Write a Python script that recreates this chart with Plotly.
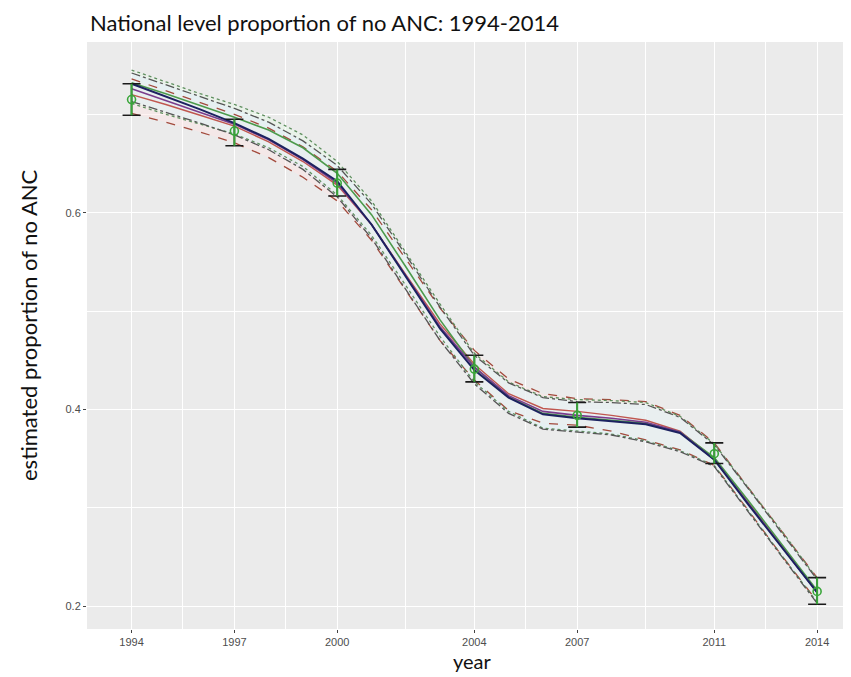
import plotly.graph_objects as go

# ---------------- data ----------------
years = list(range(1994, 2015))

navy_est = [0.731, 0.718, 0.705, 0.691, 0.675, 0.655, 0.632, 0.588, 0.535, 0.482, 0.440,
            0.412, 0.395, 0.391, 0.388, 0.385, 0.376, 0.349, 0.303, 0.259, 0.214]
red_est = [0.720, 0.710, 0.699, 0.688, 0.672, 0.652, 0.628, 0.588, 0.537, 0.487, 0.446,
           0.416, 0.401, 0.398, 0.394, 0.389, 0.378, 0.350, 0.305, 0.260, 0.215]
green_est = [0.732, 0.721, 0.709, 0.697, 0.684, 0.666, 0.640, 0.598, 0.545, 0.491, 0.443,
             0.413, 0.396, 0.392, 0.389, 0.386, 0.377, 0.351, 0.307, 0.262, 0.216]
purple_est = [0.726, 0.714, 0.702, 0.690, 0.674, 0.654, 0.630, 0.588, 0.536, 0.484, 0.443,
              0.414, 0.398, 0.394, 0.391, 0.387, 0.377, 0.349, 0.304, 0.259, 0.214]

red_hi = [0.736, 0.724, 0.712, 0.700, 0.686, 0.667, 0.642, 0.603, 0.553, 0.503, 0.460,
          0.431, 0.416, 0.411, 0.410, 0.408, 0.394, 0.366, 0.320, 0.274, 0.229]
red_lo = [0.701, 0.692, 0.682, 0.671, 0.656, 0.636, 0.612, 0.572, 0.521, 0.470, 0.430,
          0.399, 0.386, 0.384, 0.378, 0.369, 0.359, 0.343, 0.297, 0.250, 0.205]
green_hi = [0.745, 0.733, 0.721, 0.710, 0.697, 0.679, 0.652, 0.612, 0.560, 0.507, 0.457,
            0.428, 0.413, 0.410, 0.409, 0.407, 0.393, 0.365, 0.320, 0.275, 0.228]
green_lo = [0.711, 0.700, 0.690, 0.680, 0.666, 0.647, 0.618, 0.577, 0.526, 0.474, 0.428,
            0.398, 0.381, 0.378, 0.375, 0.368, 0.358, 0.343, 0.296, 0.250, 0.204]
navy_hi = [0.742, 0.730, 0.718, 0.706, 0.692, 0.673, 0.648, 0.609, 0.557, 0.504, 0.455,
           0.427, 0.412, 0.408, 0.407, 0.405, 0.392, 0.364, 0.319, 0.273, 0.227]
navy_lo = [0.713, 0.702, 0.691, 0.679, 0.664, 0.644, 0.616, 0.574, 0.522, 0.470, 0.426,
           0.396, 0.380, 0.377, 0.374, 0.367, 0.357, 0.342, 0.295, 0.249, 0.203]

survey_years = [1994, 1997, 2000, 2004, 2007, 2011, 2014]
direct_est = [0.715, 0.683, 0.630, 0.441, 0.394, 0.355, 0.215]
direct_lo = [0.699, 0.668, 0.617, 0.428, 0.382, 0.345, 0.202]
direct_hi = [0.731, 0.695, 0.644, 0.455, 0.407, 0.366, 0.229]

x_ticks = [1994, 1997, 2000, 2004, 2007, 2011, 2014]
x_minor = [1995.5, 1998.5, 2002, 2005.5, 2009, 2012.5]
y_ticks = [0.2, 0.4, 0.6]
y_minor = [0.3, 0.5, 0.7]

# ---------------- figure ----------------
# page body has an 8px default margin; figure is sized so it fills the window
FIG_W, FIG_H = 843, 669

fig = go.Figure()

def ribbon(lo, hi, color):
    fig.add_trace(go.Scatter(x=years, y=lo, mode="lines", line=dict(width=0),
                             hoverinfo="skip", showlegend=False))
    fig.add_trace(go.Scatter(x=years, y=hi, mode="lines", line=dict(width=0),
                             fill="tonexty", fillcolor=color,
                             hoverinfo="skip", showlegend=False))

ribbon(red_lo, red_hi, "rgba(255,228,228,0.45)")
ribbon(green_lo, green_hi, "rgba(228,255,228,0.35)")
ribbon(navy_lo, navy_hi, "rgba(225,238,255,0.40)")

ci_styles = [
    (red_hi, "#a24a3c", "dash"),
    (red_lo, "#a24a3c", "dash"),
    (green_hi, "#5f8f5f", "dot"),
    (green_lo, "#5f8f5f", "dot"),
    (navy_hi, "#555555", "dashdot"),
    (navy_lo, "#555555", "dashdot"),
]
for ys, col, dash in ci_styles:
    fig.add_trace(go.Scatter(x=years, y=ys, mode="lines",
                             line=dict(color=col, width=1.3, dash=dash),
                             showlegend=False))

for ys, col, w in [(red_est, "#c0574f", 1.4), (green_est, "#4c9a4c", 1.6),
                   (purple_est, "#7a3c8c", 1.6), (navy_est, "#1c2260", 2.0)]:
    fig.add_trace(go.Scatter(x=years, y=ys, mode="lines",
                             line=dict(color=col, width=w), showlegend=False))

# direct estimates: black caps, green stems, open green circles
err_plus = [h - e for h, e in zip(direct_hi, direct_est)]
err_minus = [e - l for e, l in zip(direct_est, direct_lo)]
fig.add_trace(go.Scatter(x=survey_years, y=direct_est, mode="markers",
                         marker=dict(size=1, color="rgba(0,0,0,0)"),
                         error_y=dict(type="data", symmetric=False, array=err_plus,
                                      arrayminus=err_minus, color="#1a1a1a",
                                      thickness=1.6, width=9),
                         showlegend=False))
fig.add_trace(go.Scatter(x=survey_years, y=direct_est, mode="markers",
                         marker=dict(symbol="circle-open", size=8, color="#3aa63a",
                                     line=dict(width=1.6)),
                         error_y=dict(type="data", symmetric=False, array=err_plus,
                                      arrayminus=err_minus, color="#3aa63a",
                                      thickness=2, width=0),
                         showlegend=False))

tickfont = dict(family="Liberation Sans", size=11, color="#4d4d4d")

fig.update_layout(
    width=FIG_W, height=FIG_H,
    margin=dict(l=79, r=2, t=34, b=48),
    paper_bgcolor="white",
    plot_bgcolor="#EBEBEB",
    title=dict(text="National level proportion of no ANC: 1994-2014",
               x=82 / FIG_W, xref="container", xanchor="left",
               y=1 - 15 / FIG_H, yref="container", yanchor="middle",
               font=dict(family="Lato", size=22, color="#111111")),
    xaxis=dict(range=[1992.7, 2014.93], tickmode="array", tickvals=x_ticks,
               ticktext=[str(v) for v in x_ticks],
               showgrid=True, gridcolor="white", gridwidth=1.4,
               zeroline=False, showline=False,
               ticks="outside", ticklen=3, tickcolor="#444444", tickwidth=1,
               tickfont=tickfont,
               minor=dict(tickmode="array", tickvals=x_minor, showgrid=True,
                          gridcolor="white", gridwidth=0.6, ticks="")),
    yaxis=dict(range=[0.1768, 0.7735], tickmode="array", tickvals=y_ticks,
               ticktext=["0.2", "0.4", "0.6"],
               showgrid=True, gridcolor="white", gridwidth=1.4,
               zeroline=False, showline=False,
               ticks="outside", ticklen=3, tickcolor="#444444", tickwidth=1,
               tickfont=tickfont,
               minor=dict(tickmode="array", tickvals=y_minor, showgrid=True,
                          gridcolor="white", gridwidth=0.6, ticks="")),
    annotations=[
        dict(text="year", xref="paper", yref="paper",
             x=(472 - 87) / 762, y=-(661 - 629) / 587, xanchor="center", yanchor="middle",
             showarrow=False, borderpad=0,
             font=dict(family="Lato", size=20, color="#111111")),
        dict(text="estimated proportion of no ANC", xref="paper", yref="paper",
             x=-(87 - 28) / 762, y=(629 - 325) / 587, xanchor="center", yanchor="middle",
             textangle=-90, showarrow=False,
             font=dict(family="Lato", size=22, color="#111111")),
    ],
)

fig.write_html("out.html")
